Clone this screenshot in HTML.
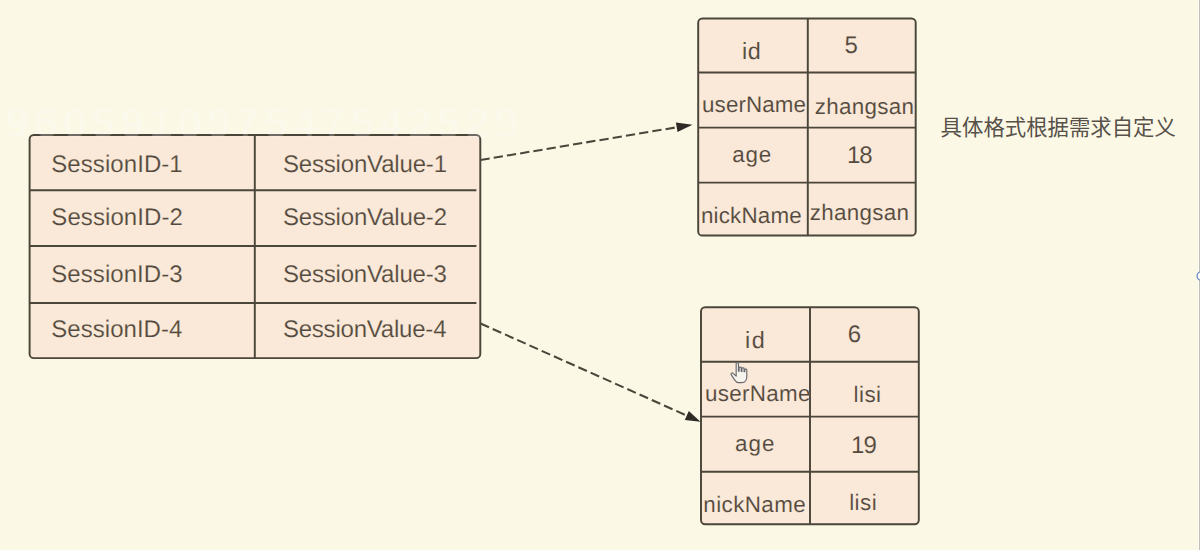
<!DOCTYPE html>
<html lang="zh"><head><meta charset="utf-8"><title>Session storage diagram</title>
<style>
html,body{margin:0;padding:0}
body{width:1200px;height:550px;overflow:hidden;background:#fbf8e6;font-family:"Liberation Sans",sans-serif;}
#stage{position:relative;width:1200px;height:550px;overflow:hidden;background:#fbf8e6}
#stage svg{position:absolute;left:0;top:0}
.t{text-rendering:geometricPrecision;position:absolute;white-space:nowrap;line-height:1;color:#54493f;-webkit-text-stroke:0.16px #fae9d9;font-family:"Liberation Sans",sans-serif}
.t.r{-webkit-text-stroke-width:0.1px}
.wm{position:absolute;left:6px;top:102.5px;font-size:40.5px;line-height:1;letter-spacing:6.25px;color:#fff;-webkit-text-stroke:0.9px #fff;opacity:.2;white-space:nowrap;font-family:"Liberation Sans",sans-serif}
</style></head><body><div id="stage">
<svg width="1200" height="550" viewBox="0 0 1200 550">
<rect x="29.6" y="135" width="450.7" height="223.1" rx="4.2" ry="4.2" fill="#fae9d9" stroke="#4b463a" stroke-width="1.95"/>
<line x1="254.8" y1="135" x2="254.8" y2="358.1" stroke="#4b463a" stroke-width="1.95"/>
<line x1="29.6" y1="190.3" x2="476.4" y2="190.3" stroke="#4b463a" stroke-width="1.95"/>
<line x1="29.6" y1="246" x2="476.4" y2="246" stroke="#4b463a" stroke-width="1.95"/>
<line x1="29.6" y1="302.9" x2="476.4" y2="302.9" stroke="#4b463a" stroke-width="1.95"/>
<rect x="698.2" y="18.4" width="217.5" height="217.2" rx="4.2" ry="4.2" fill="#fae9d9" stroke="#4b463a" stroke-width="1.95"/>
<line x1="807.8" y1="18.4" x2="807.8" y2="235.6" stroke="#4b463a" stroke-width="1.95"/>
<line x1="698.2" y1="72.5" x2="915.7" y2="72.5" stroke="#4b463a" stroke-width="1.95"/>
<line x1="698.2" y1="127.6" x2="915.7" y2="127.6" stroke="#4b463a" stroke-width="1.95"/>
<line x1="698.2" y1="182.6" x2="915.7" y2="182.6" stroke="#4b463a" stroke-width="1.95"/>
<rect x="701" y="307.3" width="217.8" height="217.0" rx="4.2" ry="4.2" fill="#fae9d9" stroke="#4b463a" stroke-width="1.95"/>
<line x1="810" y1="307.3" x2="810" y2="524.3" stroke="#4b463a" stroke-width="1.95"/>
<line x1="701" y1="361.7" x2="918.8" y2="361.7" stroke="#4b463a" stroke-width="1.95"/>
<line x1="701" y1="416.6" x2="918.8" y2="416.6" stroke="#4b463a" stroke-width="1.95"/>
<line x1="701" y1="471.7" x2="918.8" y2="471.7" stroke="#4b463a" stroke-width="1.95"/>
<line x1="480.5" y1="160.0" x2="676.7" y2="127.3" stroke="#4b463a" stroke-width="2.05" stroke-dasharray="9.3 4.1"/><polygon points="692.5,124.7 677.5,132.1 675.9,122.6" fill="#2e2b26"/>
<line x1="480.5" y1="323.5" x2="686.8" y2="415.6" stroke="#4b463a" stroke-width="2.05" stroke-dasharray="9.3 4.1"/><polygon points="700.5,421.7 684.8,420.1 688.8,411.1" fill="#2e2b26"/>
<text x="940.6" y="134.6" font-size="21.4" fill="#57514a" font-family="&quot;Liberation Sans&quot;, &quot;Noto Sans CJK SC&quot;, sans-serif">具体格式根据需求自定义</text>
<rect x="1198.2" y="0" width="1.1" height="550" fill="#fefdf8"/><rect x="1199.25" y="0" width="0.75" height="550" fill="#aeada6"/>
<circle cx="1201.4" cy="276" r="4.35" fill="#fdfdfb" stroke="#6f90c6" stroke-width="1.3"/>
<g transform="translate(730.3,362.2) scale(1.13,1.07)" fill="#f7f4ee" stroke="#66666c" stroke-width="1" stroke-linejoin="round"><path d="M5.2 1.2c0-1 2-1 2 0v7.2l0.6 0v-3.2c0-0.9 1.9-0.9 1.9 0v3.4l0.6 0v-2.6c0-0.9 1.9-0.9 1.9 0v2.9l0.6 0v-1.9c0-0.9 1.8-0.9 1.8 0v6.3c0 3.2-1.6 5.8-4.4 5.8h-2.6c-1.8 0-2.8-1-3.8-2.6l-3-4.9c-0.7-1.1 0.9-2.1 1.7-1.2l2.7 2.6z"/></g></svg>
<div class="wm">960591097547542529</div>
<span class="t" style="left:51.3px;top:152.6px;font-size:24px;letter-spacing:0.07px">SessionID-1</span>
<span class="t" style="left:51.3px;top:206.1px;font-size:24px;letter-spacing:0.08px">SessionID-2</span>
<span class="t" style="left:51.3px;top:263.4px;font-size:24px;letter-spacing:0.06px">SessionID-3</span>
<span class="t" style="left:51.3px;top:317.8px;font-size:24px;letter-spacing:0.03px">SessionID-4</span>
<span class="t" style="left:282.9px;top:152.6px;font-size:24px;letter-spacing:-0.17px">SessionValue-1</span>
<span class="t" style="left:282.9px;top:206.1px;font-size:24px;letter-spacing:-0.17px">SessionValue-2</span>
<span class="t" style="left:282.9px;top:263.4px;font-size:24px;letter-spacing:-0.18px">SessionValue-3</span>
<span class="t" style="left:282.9px;top:317.8px;font-size:24px;letter-spacing:-0.21px">SessionValue-4</span>
<span class="t r" style="left:742.0px;top:40.1px;font-size:23.4px;letter-spacing:0.66px">id</span>
<span class="t r" style="left:844.5px;top:34.2px;font-size:24px">5</span>
<span class="t r" style="left:702.1px;top:94.1px;font-size:22.4px;letter-spacing:0.07px">userName</span>
<span class="t r" style="left:814.7px;top:96.0px;font-size:22.4px;letter-spacing:0.32px">zhangsan</span>
<span class="t r" style="left:732.2px;top:144.4px;font-size:22.4px;letter-spacing:0.84px">age</span>
<span class="t r" style="left:847.0px;top:143.8px;font-size:24px;letter-spacing:-1.02px">18</span>
<span class="t r" style="left:700.9px;top:205.1px;font-size:22.4px;letter-spacing:0.19px">nickName</span>
<span class="t r" style="left:809.8px;top:202.3px;font-size:22.4px;letter-spacing:0.30px">zhangsan</span>
<span class="t r" style="left:745.1px;top:328.7px;font-size:23.4px;letter-spacing:1.56px">id</span>
<span class="t r" style="left:847.8px;top:322.8px;font-size:24px">6</span>
<span class="t r" style="left:705.0px;top:382.7px;font-size:22.4px;letter-spacing:0.32px">userName</span>
<span class="t r" style="left:853.4px;top:384.4px;font-size:22.4px;letter-spacing:0.53px">lisi</span>
<span class="t r" style="left:735.0px;top:432.9px;font-size:22.4px;letter-spacing:0.99px">age</span>
<span class="t r" style="left:851.0px;top:434.0px;font-size:24px;letter-spacing:-0.93px">19</span>
<span class="t r" style="left:703.3px;top:493.7px;font-size:22.4px;letter-spacing:0.41px">nickName</span>
<span class="t r" style="left:849.2px;top:492.0px;font-size:22.4px;letter-spacing:0.46px">lisi</span>
</div></body></html>
